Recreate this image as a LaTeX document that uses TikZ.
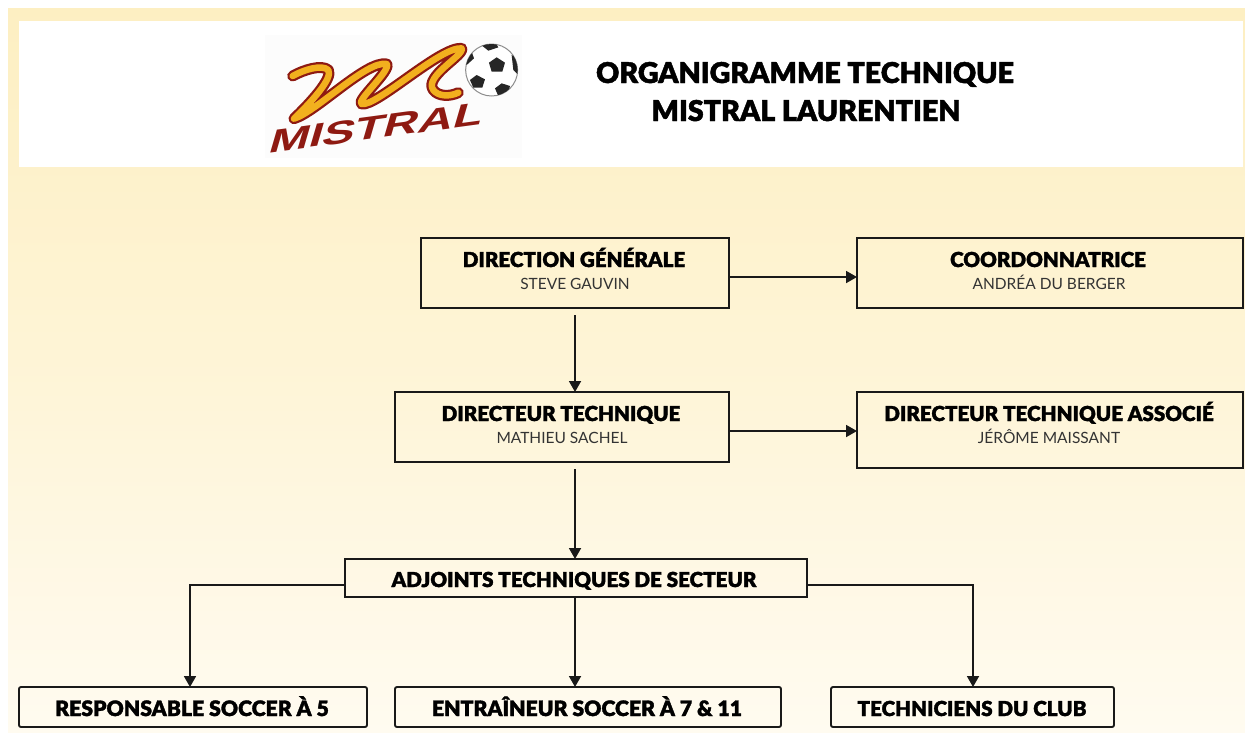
\documentclass[tikz,border=0pt]{standalone}
\usepackage{fontspec}
\setmainfont{Lato}
\newfontfamily\blackfont[FakeBold=1.6]{Lato Black}
\newfontfamily\logofont{Liberation Sans}
\usetikzlibrary{arrows.meta}
\definecolor{bgtop}{HTML}{FDEFC2}
\definecolor{bgbot}{HTML}{FFFBF0}
\definecolor{logored}{HTML}{8E1A12}
\definecolor{logoyel}{HTML}{F2B01E}
\tikzset{
 box/.style={draw=black!90,line width=1.9pt,inner sep=0pt,outer sep=0pt,anchor=north west},
 ttl/.style={font=\blackfont\fontsize{20.6}{22}\selectfont,text=black,inner sep=0pt,anchor=base},
 ttlb/.style={font=\blackfont\fontsize{21.2}{22}\selectfont,text=black,inner sep=0pt,anchor=base},
 sub/.style={font=\fontsize{15.5}{16}\selectfont,text=black!80,inner sep=0pt,anchor=base},
 head/.style={font=\blackfont\fontsize{28.6}{30}\selectfont,text=black,inner sep=0pt,anchor=base},
 conn/.style={draw=black!90,line width=1.8pt,-{Triangle[length=11pt,width=12pt]}},
 pent/.style={fill=black!85,draw=none},
}
\newcommand{\bx}[5]{\node[box,#5,minimum width=#3pt,minimum height=#4pt] (#1) at (#2) {};}
\newcommand{\swoosh}{(38,108) .. controls (70,90) and (125,72) .. (145,90) .. controls (160,115) and (90,190) .. (42,236) .. controls (110,215) and (260,60) .. (320,72) .. controls (335,90) and (225,185) .. (245,192) .. controls (290,200) and (480,20) .. (545,25) .. controls (555,45) and (430,110) .. (460,150) .. controls (475,170) and (510,170) .. (535,158)}
\begin{document}
\begin{tikzpicture}[x=1pt,y=-1pt]
\useasboundingbox (0,0) rectangle (1245,732);
\fill[white] (0,0) rectangle (1245,732);
\shade[top color=bgtop,bottom color=bgbot,middle color=bgtop!55!bgbot] (8,8) rectangle (1245,732);
\fill[white] (19,21) rectangle (1243,167);
% logo
\fill[black!1] (265,35) rectangle (522,158);
\begin{scope}[shift={(280,40)},x=0.3333pt,y=-0.3333pt]
\draw[logored,line width=11pt,line cap=round,line join=round] \swoosh;
\draw[logoyel,line width=6.5pt,line cap=round,line join=round] \swoosh;
\end{scope}
\begin{scope}[shift={(250,20)},x=0.3333pt,y=-0.3333pt]
\node[font=\logofont\bfseries\fontsize{34}{34}\selectfont,text=logored,inner sep=0pt,xslant=0.55,xscale=1.33,rotate=11,transform shape] (logotext) at (382,322) {MISTRAL};
\fill[white] (725,150) circle (78);
\draw[black!45,line width=1pt] (725,150) circle (78);
\begin{scope}
\clip (725,150) circle (78);
\fill[pent] (740,112)--(765,128)--(757,155)--(725,155)--(717,128)--cycle;
\fill[pent] (680,165)--(705,178)--(697,203)--(670,203)--(660,180)--cycle;
\fill[pent] (755,190)--(780,198)--(772,228)--(745,228)--(735,205)--cycle;
\fill[pent] (690,72)--(735,65)--(745,82)--(715,92)--cycle;
\fill[pent] (640,110)--(665,95)--(672,115)--(650,135)--cycle;
\fill[pent] (785,105)--(810,120)--(805,165)--(790,150)--cycle;
\end{scope}
\end{scope}
% title
\node[head] (t1) at (805,83) {ORGANIGRAMME TECHNIQUE};
\node[head] (t2) at (806,121) {MISTRAL LAURENTIEN};
% boxes
\bx{dg}{421,238}{308}{70}{}
\bx{co}{857,238}{386}{70}{}
\bx{dt}{395,392}{334}{70}{}
\bx{da}{857,392}{386}{76}{}
\bx{ad}{345,559}{462}{38}{}
\bx{re}{19,687}{348}{40}{rounded corners=2pt}
\bx{en}{395,687}{386}{40}{rounded corners=2pt}
\bx{te}{831,687}{283}{40}{rounded corners=2pt}
% texts
\node[ttl] (dgt) at (574,267) {DIRECTION GÉNÉRALE};
\node[sub] (dgs) at (575,289) {STEVE GAUVIN};
\node[ttl] (cot) at (1048,267) {COORDONNATRICE};
\node[sub] (cos) at (1049,289) {ANDRÉA DU BERGER};
\node[ttl] (dtt) at (561,421) {DIRECTEUR TECHNIQUE};
\node[sub] (dts) at (562,443) {MATHIEU SACHEL};
\node[ttl] (dat) at (1049,421) {DIRECTEUR TECHNIQUE ASSOCIÉ};
\node[sub] (das) at (1049,443) {JÉRÔME MAISSANT};
\node[ttl] (adt) at (574,587) {ADJOINTS TECHNIQUES DE SECTEUR};
\node[ttlb] (ret) at (192,716) {RESPONSABLE SOCCER À 5};
\node[ttlb] (ent) at (587,716) {ENTRAÎNEUR SOCCER À 7 \& 11};
\node[ttl] (tet) at (972,716) {TECHNICIENS DU CLUB};
% connectors
\coordinate (dgfoot) at (575,315);
\coordinate (dtfoot) at (575,469);
\draw[conn] (dg.east |- 0,277) -- (co.west |- 0,277);
\draw[conn] (dt.east |- 0,431) -- (da.west |- 0,431);
\draw[conn] (dgfoot) -- (dt.north -| dgfoot);
\draw[conn] (dtfoot) -- (ad.north -| dtfoot);
\draw[conn] (ad.south -| dtfoot) -- (en.north -| dtfoot);
\draw[conn] (ad.west |- 0,585) -| (190,0 |- re.north);
\draw[conn] (ad.east |- 0,585) -| (973,0 |- te.north);
\end{tikzpicture}
\end{document}
